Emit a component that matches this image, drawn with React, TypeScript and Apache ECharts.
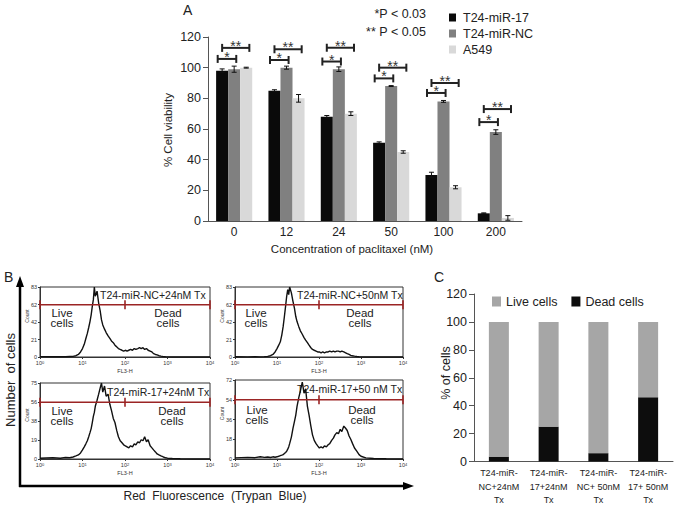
import React, { useEffect, useRef } from 'react';
import * as echarts from 'echarts';

// ---------- Panel A data ----------
const concentrations = ['0', '12', '24', '50', '100', '200'];
const miR17 = [98, 85, 68, 51, 30, 5];
const miRNC = [99, 100, 99, 88, 78, 58];
const a549 = [100, 80, 70, 45, 22, 2];
const miR17Err = [1.2, 0.6, 0.8, 0.6, 1.8, 0.3];
const miRNCErr = [2, 1, 1.5, 0.3, 0.6, 1.5];
const a549Err = [0.3, 2.5, 1.2, 0.8, 1, 1.5];
const starLevels = [105.7, 105, 104, 93, 83.5, 64.5];
const doubleStarLevels = [112.9, 112, 113, 100, 90, 73];

// ---------- Panel C data ----------
const treatments = ['T24-miR-\nNC+24nM\nTx', 'T24-miR-\n17+24nM\nTx', 'T24-miR-\nNC+ 50nM\nTx', 'T24-miR-\n17+ 50nM\nTx'];
const deadCells = [3.5, 25, 6, 46];
const liveCells = [96.5, 75, 94, 54];

// ---------- Panel B data (flow cytometry histograms) ----------
const fl3Channels = [1, 2, 3, 4, 5, 6, 7, 8, 9, 10, 11, 12, 13, 14, 15, 16, 17, 18, 19, 20,
  22, 24, 26, 28, 30, 33, 36, 40, 44, 48, 53, 58,
  64, 70, 77, 85, 93, 102, 112, 123, 135, 150, 165, 180, 200,
  220, 240, 265, 290, 320, 350, 390, 430, 470, 520, 570, 630, 700, 800, 900, 1000,
  1300, 2000, 4000, 10000];
const histNC24 = [0.5, 0.3, 0.4, 0.3, 0.6, 0.8, 1.5, 3, 6, 10,
  15, 22, 28, 35, 42, 50, 60, 68, 83, 72,
  78, 64, 55, 44, 38, 33, 29, 25, 22, 19, 17, 14,
  12, 10, 9, 8, 7, 8, 7, 8, 9, 8, 10, 9, 10,
  11, 10, 11, 9, 10, 8, 7, 6, 4, 3, 2.5, 1.5, 1, 0.5, 0.3, 0.2,
  0, 0, 0, 0];
const histNC50 = [0.3, 0.2, 0.3, 0.2, 0.4, 0.8, 1.5, 3, 6, 10,
  14, 18, 26, 36, 48, 60, 72, 80, 74, 83,
  76, 66, 58, 48, 42, 36, 31, 27, 23, 20, 17, 14,
  11, 9, 8, 7, 6, 6, 5, 6, 5, 6, 6, 7, 6,
  7, 6, 7, 7, 6, 7, 6, 5, 4, 3, 2, 1.5, 1, 0.6, 0.3, 0.2,
  0, 0, 0, 0];
const hist17_24 = [0.8, 1.2, 0.8, 1.5, 1.2, 2, 3, 4, 6, 9,
  12, 15, 18, 22, 26, 30, 36, 42, 46, 52,
  58, 64, 70, 75, 66, 72, 62, 64, 54, 48, 40, 36,
  28, 22, 18, 16, 14, 13, 12, 11, 13, 12, 15, 14, 17,
  16, 19, 18, 22, 17, 19, 13, 11, 9, 7, 5, 4, 3, 2, 1.2, 0.8,
  0.5, 0.2, 0, 0];
const hist17_50 = [1, 1.5, 1.2, 2, 1.5, 1.8, 1.4, 2, 1.6, 2,
  2.5, 3, 3.5, 4, 5, 6, 7, 9, 11, 14,
  20, 28, 34, 40, 48, 56, 62, 70, 60, 64, 48, 40,
  30, 22, 17, 14, 12, 10, 11, 10, 12, 11, 13, 14, 17,
  19, 22, 24, 23, 27, 25, 30, 28, 26, 21, 18, 14, 10, 7, 4, 2.5,
  1, 0.5, 0.2, 0];
const histTitles = ['T24-miR-NC+24nM Tx', 'T24-miR-NC+50nM Tx', 'T24-miR-17+24nM Tx', 'T24-miR-17+50 nM Tx'];
const histCounts = [histNC24, histNC50, hist17_24, hist17_50];
const histMax = [83, 83, 75, 72];
const gateLevels = [62, 62, 56, 54];
const gateMarks = [1, 100, 10000];

const FF = '"Liberation Sans", Arial, Helvetica, sans-serif';
const TXT = '#222';

// layout of the four histogram boxes
const histBoxes = [
  { left: 40, top: 287, width: 170, height: 70, titleX: 100, titleY: 295, liveX: 62, deadX: 168, lblY: 318 },
  { left: 235, top: 287, width: 168, height: 70, titleX: 297, titleY: 295, liveX: 256, deadX: 360, lblY: 318 },
  { left: 40, top: 383, width: 170, height: 76, titleX: 107, titleY: 392, liveX: 62, deadX: 172, lblY: 416 },
  { left: 235, top: 380, width: 168, height: 79, titleX: 297, titleY: 389, liveX: 257, deadX: 362, lblY: 415 },
];

function buildOption() {
  const grids: any[] = [
    { left: 208, top: 37, width: 314, height: 184 },
    { left: 474, top: 294, width: 199, height: 169 },
  ];
  const xAxes: any[] = [
    {
      type: 'category', gridIndex: 0, data: concentrations,
      axisLine: { lineStyle: { color: '#555', width: 1 } },
      axisTick: { length: 5, lineStyle: { color: '#555' } },
      axisLabel: { fontSize: 12, color: TXT, margin: 5, fontFamily: FF },
    },
    {
      type: 'category', gridIndex: 1, data: treatments,
      axisLine: { lineStyle: { color: '#555', width: 1 } },
      axisTick: { length: 5, lineStyle: { color: '#555' } },
      axisLabel: { fontSize: 9, lineHeight: 13.5, color: TXT, margin: 5, fontFamily: FF, interval: 0 },
    },
  ];
  const yAxes: any[] = [
    {
      type: 'value', gridIndex: 0, min: 0, max: 120, interval: 20,
      splitLine: { show: false },
      axisLine: { show: true, lineStyle: { color: '#555' } },
      axisTick: { show: true, length: 5, lineStyle: { color: '#555' } },
      axisLabel: { fontSize: 12.5, color: TXT, margin: 7, fontFamily: FF },
    },
    {
      type: 'value', gridIndex: 1, min: 0, max: 120, interval: 20,
      splitLine: { show: false },
      axisLine: { show: true, lineStyle: { color: '#555' } },
      axisTick: { show: true, length: 5, lineStyle: { color: '#555' } },
      axisLabel: { fontSize: 12.5, color: TXT, margin: 7, fontFamily: FF },
    },
  ];
  const series: any[] = [
    { name: 'T24-miR-17', type: 'bar', xAxisIndex: 0, yAxisIndex: 0, data: miR17, barGap: '0%', barCategoryGap: '31%', itemStyle: { color: '#0a0a0a' } },
    { name: 'T24-miR-NC', type: 'bar', xAxisIndex: 0, yAxisIndex: 0, data: miRNC, itemStyle: { color: '#808080' } },
    { name: 'A549', type: 'bar', xAxisIndex: 0, yAxisIndex: 0, data: a549, itemStyle: { color: '#d9d9d9' } },
  ];

  // error bars
  const errData: any[] = [];
  [[miR17, miR17Err], [miRNC, miRNCErr], [a549, a549Err]].forEach(([vals, errs], k) => {
    vals.forEach((v, i) => errData.push([i, v, errs[i], k]));
  });
  series.push({
    type: 'custom', xAxisIndex: 0, yAxisIndex: 0, data: errData, z: 5,
    renderItem: (params: any, api: any) => {
      const cat = api.value(0), v = api.value(1), e = api.value(2), k = api.value(3);
      const band = api.size([1, 0])[0];
      const bw = (band * 0.69) / 3;
      const c = api.coord([cat, v]);
      const x = c[0] + (k - 1) * bw;
      const top = api.coord([cat, v + e])[1];
      const bot = api.coord([cat, Math.max(0, v - e)])[1];
      const cap = 2.5;
      const st = { stroke: '#111', lineWidth: 1 };
      return {
        type: 'group', children: [
          { type: 'line', shape: { x1: x, y1: top, x2: x, y2: bot }, style: st },
          { type: 'line', shape: { x1: x - cap, y1: top, x2: x + cap, y2: top }, style: st },
          { type: 'line', shape: { x1: x - cap, y1: bot, x2: x + cap, y2: bot }, style: st },
        ],
      };
    },
  });

  // significance brackets
  const brData: any[] = [];
  starLevels.forEach((l, i) => brData.push([i, l, 1]));
  doubleStarLevels.forEach((l, i) => brData.push([i, l, 2]));
  series.push({
    type: 'custom', xAxisIndex: 0, yAxisIndex: 0, data: brData, z: 6,
    renderItem: (params: any, api: any) => {
      const cat = api.value(0), lvl = api.value(1), kind = api.value(2);
      const band = api.size([1, 0])[0];
      const c = api.coord([cat, lvl]);
      const f = kind === 1 ? [-0.315, 0.04] : [-0.23, 0.29];
      const x1 = c[0] + f[0] * band, x2 = c[0] + f[1] * band, y = c[1];
      const st = { stroke: '#222', lineWidth: 2 };
      return {
        type: 'group', children: [
          { type: 'line', shape: { x1, y1: y, x2, y2: y }, style: st },
          { type: 'line', shape: { x1, y1: y - 4, x2: x1, y2: y + 4 }, style: st },
          { type: 'line', shape: { x1: x2, y1: y - 4, x2, y2: y + 4 }, style: st },
          { type: 'text', x: (x1 + x2) / 2, y: y + 5, style: { text: kind === 1 ? '*' : '**', fontSize: 14, fill: '#333', align: 'center', verticalAlign: 'bottom', fontFamily: FF } },
        ],
      };
    },
  });

  // panel C stacked bars
  series.push({ name: 'Dead cells', type: 'bar', stack: 'c', xAxisIndex: 1, yAxisIndex: 1, data: deadCells, barWidth: 20, itemStyle: { color: '#0d0d0d' } });
  series.push({ name: 'Live cells', type: 'bar', stack: 'c', xAxisIndex: 1, yAxisIndex: 1, data: liveCells, barWidth: 20, itemStyle: { color: '#a6a6a6' } });

  const graphics: any[] = [
    { type: 'text', x: 183, y: 3, style: { text: 'A', fontSize: 14, fill: TXT, fontFamily: FF } },
    { type: 'text', x: 4, y: 270, style: { text: 'B', fontSize: 14, fill: TXT, fontFamily: FF } },
    { type: 'text', x: 434, y: 270, style: { text: 'C', fontSize: 14, fill: TXT, fontFamily: FF } },
    { type: 'text', x: 426, y: 14, style: { text: '*P < 0.03', fontSize: 12.5, fill: TXT, align: 'right', verticalAlign: 'middle', fontFamily: FF } },
    { type: 'text', x: 426, y: 32, style: { text: '** P < 0.05', fontSize: 12.5, fill: TXT, align: 'right', verticalAlign: 'middle', fontFamily: FF } },
    { type: 'text', x: 168, y: 130, rotation: Math.PI / 2, style: { text: '% Cell viability', fontSize: 11.5, fill: TXT, align: 'center', verticalAlign: 'middle', fontFamily: FF } },
    { type: 'text', x: 352, y: 249, style: { text: 'Concentration of paclitaxel (nM)', fontSize: 11.5, fill: TXT, align: 'center', verticalAlign: 'middle', fontFamily: FF } },
    { type: 'text', x: 446, y: 373, rotation: Math.PI / 2, style: { text: '% of cells', fontSize: 12.5, fill: TXT, align: 'center', verticalAlign: 'middle', fontFamily: FF } },
    { type: 'text', x: 10, y: 380, rotation: Math.PI / 2, style: { text: 'Number  of cells', fontSize: 13, fill: TXT, align: 'center', verticalAlign: 'middle', fontFamily: FF } },
    { type: 'text', x: 215, y: 496, style: { text: 'Red  Fluorescence  (Trypan  Blue)', fontSize: 12, fill: TXT, align: 'center', verticalAlign: 'middle', fontFamily: FF } },
    { type: 'line', shape: { x1: 20, y1: 487, x2: 20, y2: 284 }, style: { stroke: '#000', lineWidth: 2.5 } },
    { type: 'polygon', shape: { points: [[16, 287], [20, 276], [24, 287]] }, style: { fill: '#000' } },
    { type: 'line', shape: { x1: 19, y1: 486, x2: 405, y2: 486 }, style: { stroke: '#000', lineWidth: 2.5 } },
    { type: 'polygon', shape: { points: [[403, 482], [414, 486], [403, 490]] }, style: { fill: '#000' } },
  ];

  histBoxes.forEach((b, k) => {
    const gi = 2 + k;
    grids.push({ left: b.left, top: b.top, width: b.width, height: b.height, show: true, borderColor: '#333', borderWidth: 1, backgroundColor: 'transparent' });
    xAxes.push({
      type: 'log', logBase: 10, gridIndex: gi, min: 1, max: 10000,
      splitLine: { show: false },
      axisLine: { lineStyle: { color: '#333' } },
      axisTick: { length: 2, lineStyle: { color: '#333' } },
      axisLabel: {
        margin: 3, color: '#333', fontFamily: FF,
        formatter: (v: number) => '{b|10}{s|' + Math.round(Math.log10(v)) + '}',
        rich: { b: { fontSize: 5.5, fontFamily: FF, color: '#333' }, s: { fontSize: 4, verticalAlign: 'top', fontFamily: FF, color: '#333' } },
      },
    });
    yAxes.push({
      type: 'value', gridIndex: gi, min: 0, max: histMax[k], interval: histMax[k] / 4,
      splitLine: { show: false },
      axisLine: { show: true, lineStyle: { color: '#333' } },
      axisTick: { show: true, length: 2, lineStyle: { color: '#333' } },
      axisLabel: { fontSize: 5.5, margin: 3, color: '#333', fontFamily: FF, formatter: (v: number) => String(Math.round(v)) },
    });
    series.push({
      type: 'line', xAxisIndex: gi, yAxisIndex: gi, showSymbol: false,
      data: fl3Channels.map((c, i) => [c, histCounts[k][i]]),
      lineStyle: { color: '#111', width: 1.4 }, z: 3,
    });
    series.push({
      type: 'line', xAxisIndex: gi, yAxisIndex: gi, clip: false,
      data: gateMarks.map((m) => [m, gateLevels[k]]),
      symbol: 'rect', symbolSize: [1.6, 9], showSymbol: true, showAllSymbol: true,
      itemStyle: { color: '#9b2424' }, lineStyle: { color: '#9b2424', width: 1.6 }, z: 4,
    });
    const cx = b.left + b.width / 2;
    graphics.push(
      { type: 'text', x: cx, y: b.top + b.height + 14, style: { text: 'FL3-H', fontSize: 5.5, fill: '#333', align: 'center', verticalAlign: 'middle', fontFamily: FF } },
      { type: 'text', x: b.left - 13, y: b.top + b.height / 2 - 6, rotation: Math.PI / 2, style: { text: 'Count', fontSize: 5, fill: '#333', align: 'center', verticalAlign: 'middle', fontFamily: FF } },
      { type: 'text', x: b.titleX, y: b.titleY, style: { text: histTitles[k], fontSize: 10.5, fill: TXT, align: 'left', verticalAlign: 'middle', fontFamily: FF } },
      { type: 'text', x: b.liveX, y: b.lblY, style: { text: 'Live\ncells', fontSize: 11.5, lineHeight: 10.5, fill: TXT, align: 'center', verticalAlign: 'middle', fontFamily: FF } },
      { type: 'text', x: b.deadX, y: b.lblY, style: { text: 'Dead\ncells', fontSize: 11.5, lineHeight: 10.5, fill: TXT, align: 'center', verticalAlign: 'middle', fontFamily: FF } },
    );
  });

  return {
    animation: false,
    backgroundColor: '#fff',
    textStyle: { fontFamily: FF },
    grid: grids,
    xAxis: xAxes,
    yAxis: yAxes,
    legend: [
      {
        data: ['T24-miR-17', 'T24-miR-NC', 'A549'], orient: 'vertical', left: 444, top: 6,
        icon: 'rect', itemWidth: 7, itemHeight: 8, itemGap: 3, selectedMode: false,
        textStyle: { fontSize: 12.5, color: TXT, fontFamily: FF, padding: [0, 0, 0, 2] },
      },
      {
        data: ['Live cells', 'Dead cells'], orient: 'horizontal', left: 487, top: 290,
        icon: 'rect', itemWidth: 9, itemHeight: 10, itemGap: 14, selectedMode: false,
        textStyle: { fontSize: 12.5, color: TXT, fontFamily: FF },
      },
    ],
    series,
    graphic: graphics,
  };
}

export default function App() {
  const ref = useRef<HTMLDivElement>(null);
  useEffect(() => {
    const chart = echarts.init(ref.current!, null, { renderer: 'svg' });
    chart.setOption(buildOption() as any);
    return () => chart.dispose();
  }, []);
  return <div ref={ref} style={{ position: 'fixed', left: 0, top: 0, width: 678, height: 507, background: '#fff' }} />;
}
